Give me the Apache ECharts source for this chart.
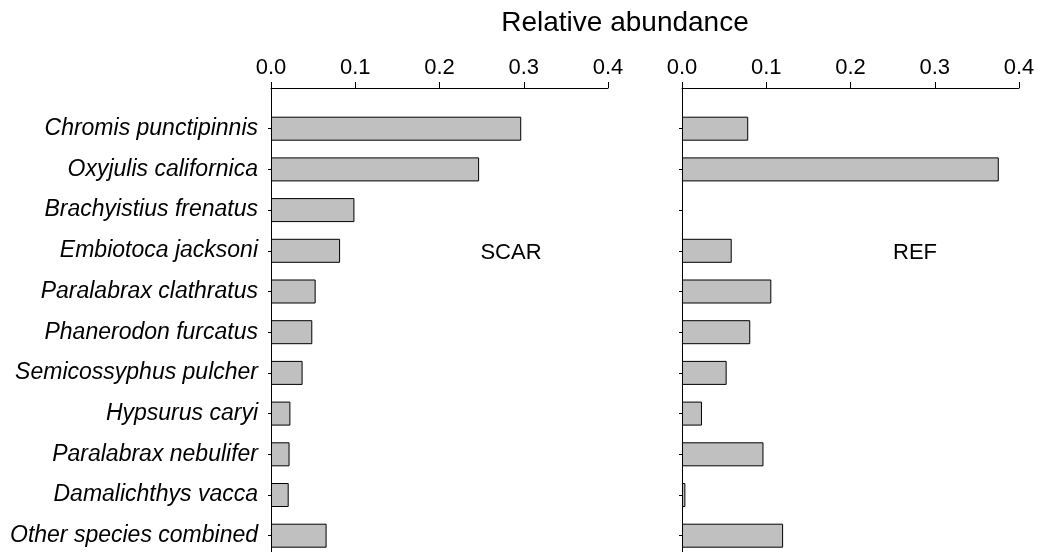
<!DOCTYPE html>
<html>
<head>
<meta charset="utf-8">
<script src="https://cdn.jsdelivr.net/npm/echarts@6/dist/echarts.min.js"></script>
<style>
  html, body { margin: 0; padding: 0; background: #fff; }
  #chart { width: 1038px; height: 552px; }
</style>
</head>
<body>
<div id="chart"></div>
<script>
const categories = [
  'Chromis punctipinnis',
  'Oxyjulis californica',
  'Brachyistius frenatus',
  'Embiotoca jacksoni',
  'Paralabrax clathratus',
  'Phanerodon furcatus',
  'Semicossyphus pulcher',
  'Hypsurus caryi',
  'Paralabrax nebulifer',
  'Damalichthys vacca',
  'Other species combined'
];
const scarValues = [0.297, 0.247, 0.099, 0.082, 0.053, 0.049, 0.0375, 0.023, 0.022, 0.021, 0.066];
const refValues  = [0.0786, 0.376, 0, 0.059, 0.106, 0.081, 0.053, 0.0237, 0.0967, 0.004, 0.120];
const xTicks = [0.0, 0.1, 0.2, 0.3, 0.4];
const panelLabels = ['SCAR', 'REF'];
const axisTitle = 'Relative abundance';

const FONT = '"Liberation Sans", Arial, sans-serif';
const axisData = [''].concat(categories, ['']);
const pad = arr => [null].concat(arr.map(v => (v === 0 ? null : v)), [null]);

const chart = echarts.init(document.getElementById('chart'), null, { renderer: 'canvas' });

function xAxisDef(gridIndex) {
  return {
    type: 'value',
    gridIndex: gridIndex,
    position: 'top',
    min: xTicks[0],
    max: xTicks[xTicks.length - 1],
    interval: xTicks[1] - xTicks[0],
    axisLine: { show: true, lineStyle: { color: '#000', width: 1 } },
    axisTick: { show: true, length: 6, lineStyle: { color: '#000' } },
    axisLabel: {
      show: true, color: '#000', fontSize: 22, fontFamily: FONT, margin: 9,
      formatter: v => v.toFixed(1)
    },
    splitLine: { show: false }
  };
}
function yAxisDef(gridIndex, showLabels) {
  return {
    type: 'category',
    gridIndex: gridIndex,
    inverse: true,
    boundaryGap: false,
    data: axisData,
    axisLine: { show: true, lineStyle: { color: '#000', width: 1 } },
    axisTick: {
      show: true, length: 3, lineStyle: { color: '#000' },
      interval: (i, v) => v !== ''
    },
    axisLabel: {
      show: showLabels, color: '#000', fontSize: 23, fontStyle: 'italic',
      fontFamily: FONT, margin: 13, interval: 0
    },
    splitLine: { show: false }
  };
}
const barStyle = { color: '#c0c0c0', borderColor: '#000', borderWidth: 1 };

chart.setOption({
  backgroundColor: '#fff',
  animation: false,
  grid: [
    { left: 271, top: 88, width: 337, height: 488.4, containLabel: false, outerBoundsMode: 'none' },
    { left: 682, top: 88, width: 337, height: 488.4, containLabel: false, outerBoundsMode: 'none' }
  ],
  xAxis: [xAxisDef(0), xAxisDef(1)],
  yAxis: [yAxisDef(0, true), yAxisDef(1, false)],
  series: [
    { type: 'bar', xAxisIndex: 0, yAxisIndex: 0, data: pad(scarValues), barWidth: 24, itemStyle: barStyle },
    { type: 'bar', xAxisIndex: 1, yAxisIndex: 1, data: pad(refValues), barWidth: 24, itemStyle: barStyle }
  ],
  graphic: [
    { type: 'text', x: 625, y: 23, style: { text: axisTitle, fill: '#000', font: '28px ' + FONT, textAlign: 'center', textVerticalAlign: 'middle' } },
    { type: 'text', x: 511, y: 253, style: { text: panelLabels[0], fill: '#000', font: '22px ' + FONT, textAlign: 'center', textVerticalAlign: 'middle' } },
    { type: 'text', x: 915, y: 253, style: { text: panelLabels[1], fill: '#000', font: '22px ' + FONT, textAlign: 'center', textVerticalAlign: 'middle' } }
  ]
});
</script>
</body>
</html>
